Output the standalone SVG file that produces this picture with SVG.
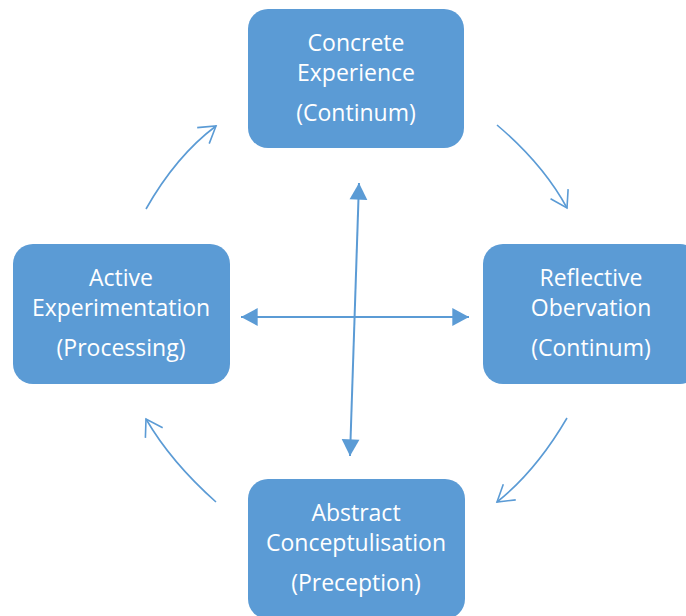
<svg xmlns="http://www.w3.org/2000/svg" width="686" height="616" viewBox="0 0 686 616">
<defs>
<style>
.box{fill:#5B9BD5;}
.lbl{font-family:"Open Sans","Liberation Sans",sans-serif;font-size:23px;fill:#FFFFFF;text-anchor:middle;}
.conn{fill:none;stroke:#5B9BD5;stroke-width:1.6;}
.axis{fill:none;stroke:#5B9BD5;stroke-width:2;}
</style>
<marker id="open" markerUnits="userSpaceOnUse" markerWidth="30" markerHeight="30" viewBox="-20 -15 25 30" refX="0" refY="0" orient="auto">
<path d="M-16,-10 L0,0 L-16,10" fill="none" stroke="#5B9BD5" stroke-width="1.6"/>
</marker>
<marker id="tri" markerUnits="userSpaceOnUse" markerWidth="20" markerHeight="20" viewBox="-16 -9 17 18" refX="0" refY="0" orient="auto-start-reverse">
<path d="M-15,-8 L0,0 L-15,8 Z" fill="#5B9BD5"/>
</marker>
</defs>
<g id="connectors">
<path class="conn" d="M146,209 Q176,156 216,126" marker-end="url(#open)"/>
<path class="conn" d="M497,125 Q543,164 567,208" marker-end="url(#open)"/>
<path class="conn" d="M567,418 Q536,471 497,502" marker-end="url(#open)"/>
<path class="conn" d="M216,502 Q171,462 146,419" marker-end="url(#open)"/>
<line class="axis" x1="241" y1="317" x2="469" y2="317" marker-start="url(#tri)" marker-end="url(#tri)"/>
<line class="axis" x1="359" y1="183" x2="350" y2="456" marker-start="url(#tri)" marker-end="url(#tri)"/>
</g>
<g id="concrete-experience">
<rect class="box" x="248" y="9" width="216" height="139" rx="20"/>
<text class="lbl" x="356" y="51">Concrete</text>
<text class="lbl" x="356" y="81">Experience</text>
<text class="lbl" x="356" y="121">(Continum)</text>
</g>
<g id="reflective-observation">
<rect class="box" x="483" y="244" width="217" height="140" rx="20"/>
<text class="lbl" x="591" y="286">Reflective</text>
<text class="lbl" x="591" y="316">Obervation</text>
<text class="lbl" x="591" y="356">(Continum)</text>
</g>
<g id="active-experimentation">
<rect class="box" x="13" y="244" width="217" height="140" rx="20"/>
<text class="lbl" x="121" y="286">Active</text>
<text class="lbl" x="121" y="316">Experimentation</text>
<text class="lbl" x="121" y="356">(Processing)</text>
</g>
<g id="abstract-conceptualisation">
<rect class="box" x="248" y="479" width="217" height="140" rx="20"/>
<text class="lbl" x="356" y="521">Abstract</text>
<text class="lbl" x="356" y="551">Conceptulisation</text>
<text class="lbl" x="356" y="591">(Preception)</text>
</g>
</svg>
